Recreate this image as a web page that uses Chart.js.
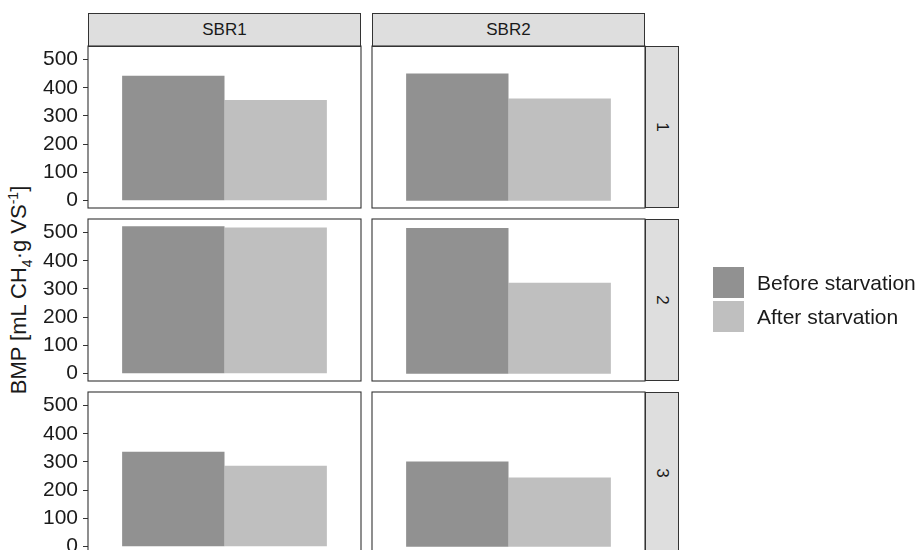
<!DOCTYPE html>
<html>
<head>
<meta charset="utf-8">
<script src="https://cdn.jsdelivr.net/npm/chart.js@4.4.1/dist/chart.umd.min.js"></script>
<style>
  body { margin: 0; width: 924px; height: 550px; overflow: hidden; background: #fff;
         font-family: "Liberation Sans", Arial, sans-serif; color: #1a1a1a; }
  canvas { position: absolute; }
  .strip { position: absolute; box-sizing: border-box; border: 1px solid #333;
           background: #dedede; display: flex; align-items: center; justify-content: center;
           font-size: 17px; }
  .strip.side span { transform: rotate(90deg); display: inline-block; }
  .key { position: absolute; width: 31px; height: 31px; }
  .ltext { position: absolute; font-size: 21px; line-height: 31px; white-space: nowrap; }
  #ytitle { position: absolute; left: 20px; top: 290px; font-size: 22px; white-space: nowrap;
            transform: translate(-50%, -50%) rotate(-90deg); }
  #ytitle sub, #ytitle sup { font-size: 14px; }
</style>
</head>
<body>
<div id="ytitle">BMP [mL CH<sub>4</sub>·g VS<sup>-1</sup>]</div>
<script>
// facets
const columns = ["SBR1", "SBR2"];
const rows = ["1", "2", "3"];
const seriesNames = ["Before starvation", "After starvation"];
const seriesColors = ["#919191", "#bfbfbf"];

// BMP values per row (1, 2, 3)
const sbr1Before = [443, 522, 336];
const sbr1After = [357, 518, 287];
const sbr2Before = [451, 516, 302];
const sbr2After = [362, 322, 245];
const yTicks = [0, 100, 200, 300, 400, 500];

const values = [[sbr1Before, sbr1After], [sbr2Before, sbr2After]];

// layout
const colLeft = [88, 372];
const panelW = 273;
const rowTop = [46, 219, 392];
const panelH = 162;
const pad = 8;

const panelBox = {
  id: "panelBox",
  afterDraw(chart) {
    const a = chart.chartArea, ctx = chart.ctx;
    ctx.save();
    ctx.strokeStyle = "#333";
    ctx.lineWidth = 1.1;
    ctx.strokeRect(a.left, a.top, a.right - a.left, a.bottom - a.top);
    ctx.restore();
  }
};

function addDiv(cls, style, html) {
  const d = document.createElement("div");
  d.className = cls;
  Object.assign(d.style, style);
  d.innerHTML = html;
  document.body.appendChild(d);
  return d;
}

columns.forEach((col, c) => {
  addDiv("strip", { left: colLeft[c] + "px", top: "13px", width: panelW + "px", height: "34px" }, col);

  rows.forEach((row, r) => {
    const first = c === 0;
    const cv = document.createElement("canvas");
    const left = first ? 0 : colLeft[c] - pad;
    const w = first ? colLeft[c] + panelW + pad : panelW + 2 * pad;
    cv.width = w;
    cv.height = panelH + 2 * pad;
    cv.style.left = left + "px";
    cv.style.top = (rowTop[r] - pad) + "px";
    document.body.appendChild(cv);

    new Chart(cv, {
      type: "bar",
      data: {
        labels: [row],
        datasets: seriesNames.map((name, s) => ({
          label: name,
          data: [values[c][s][r]],
          backgroundColor: seriesColors[s],
          borderWidth: 0,
          categoryPercentage: 0.75,
          barPercentage: 1.0
        }))
      },
      options: {
        responsive: false,
        animation: false,
        layout: { padding: { top: pad, bottom: pad, right: pad, left: first ? 0 : pad } },
        plugins: { legend: { display: false }, tooltip: { enabled: false } },
        scales: {
          x: { type: "category", display: false, offset: true },
          y: {
            display: first,
            min: -26.1,
            max: 548.1,
            afterBuildTicks: s => { s.ticks = yTicks.map(v => ({ value: v })); },
            afterFit: s => {
              if (first) s.width = colLeft[0];
              s.paddingTop = 0;
              s.paddingBottom = 0;
            },
            border: { display: false },
            grid: { drawOnChartArea: false, drawTicks: true, tickLength: 5, color: "#333", lineWidth: 1 },
            ticks: { autoSkip: false, color: "#1a1a1a", padding: 5,
                     font: { family: "'Liberation Sans', Arial, sans-serif", size: 21 } }
          }
        }
      },
      plugins: [panelBox]
    });

    if (c === columns.length - 1) {
      addDiv("strip side", { left: (colLeft[c] + panelW) + "px", top: rowTop[r] + "px", width: "34px", height: panelH + "px" },
        "<span>" + row + "</span>");
    }
  });
});

// legend
seriesNames.forEach((name, s) => {
  const top = 267 + s * 34;
  addDiv("key", { left: "713px", top: top + "px", background: seriesColors[s] }, "");
  addDiv("ltext", { left: "757px", top: top + "px" }, name);
});
</script>
</body>
</html>
